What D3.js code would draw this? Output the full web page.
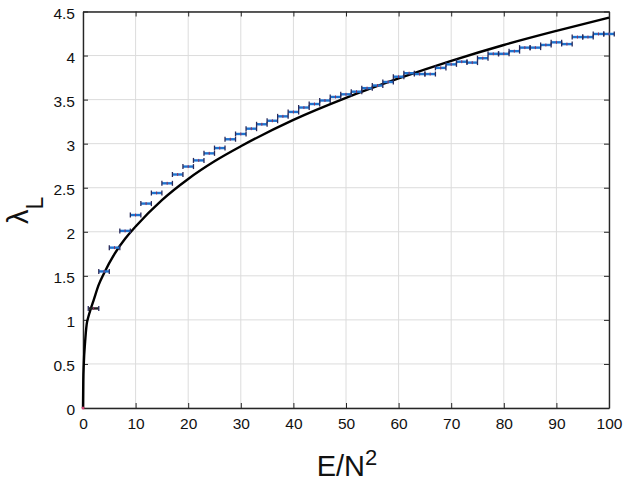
<!DOCTYPE html>
<html><head><meta charset="utf-8">
<script src="https://cdn.jsdelivr.net/npm/d3@7"></script>
<style>body{margin:0;background:#fff}svg{display:block;font-family:"Liberation Sans",Arial,Helvetica,sans-serif}</style>
</head><body><svg id="c" width="623" height="487"></svg>
<script>
const pointX = [0,2,4,6,8,10,12,14,16,18,20,22,24,26,28,30,32,34,36,38,40,42,44,46,48,50,52,54,56,58,60,62,64,66,68,70,72,74,76,78,80,82,84,86,88,90,92,94,96,98,100];
const pointY = [0,1.13,1.55,1.82,2.01,2.19,2.32,2.44,2.55,2.65,2.74,2.81,2.89,2.95,3.05,3.11,3.17,3.22,3.26,3.31,3.36,3.41,3.45,3.49,3.53,3.56,3.59,3.63,3.66,3.70,3.76,3.80,3.79,3.79,3.86,3.90,3.93,3.92,3.97,4.02,4.02,4.05,4.09,4.09,4.12,4.15,4.13,4.21,4.21,4.245,4.245];
const curveX = [0,0.05,0.15,0.4,0.7,1,1.5,2,3,4,6,8,10,15,20,25,30,40,50,60,70,80,90,100];
const curveY = [0,0.3,0.5,0.75,0.95,1.03,1.13,1.22,1.40,1.53,1.75,1.92,2.06,2.36,2.60,2.80,2.97,3.27,3.52,3.74,3.94,4.12,4.28,4.43];
const xTicks = [0,10,20,30,40,50,60,70,80,90,100];
const yTicks = [0,0.5,1,1.5,2,2.5,3,3.5,4,4.5];
const errHalf = 1;

const svg = d3.select("#c");
const L = 83, R = 609, T = 11.5, B = 408;
const x = d3.scaleLinear().domain([0,100]).range([L,R]);
const y = d3.scaleLinear().domain([0,4.5]).range([B,T]);

// grid
const g = svg.append("g");
g.selectAll(".gx").data(xTicks).join("line")
  .attr("x1",d=>x(d)).attr("x2",d=>x(d)).attr("y1",T).attr("y2",B)
  .attr("stroke","#dcdcdc").attr("stroke-width",1);
g.selectAll(".gy").data(yTicks).join("line")
  .attr("y1",d=>y(d)).attr("y2",d=>y(d)).attr("x1",L).attr("x2",R)
  .attr("stroke","#dcdcdc").attr("stroke-width",1);

// axes
const ax = svg.append("g").attr("transform",`translate(0,${B})`)
  .call(d3.axisBottom(x).tickValues(xTicks).tickFormat(d3.format("d")).tickSizeInner(-5).tickSizeOuter(0).tickPadding(10));
const ay = svg.append("g").attr("transform",`translate(${L},0)`)
  .call(d3.axisLeft(y).tickValues(yTicks).tickFormat(d=>String(d)).tickSizeInner(-5).tickSizeOuter(0).tickPadding(8));
const axT = svg.append("g").attr("transform",`translate(0,${T})`)
  .call(d3.axisTop(x).tickValues(xTicks).tickFormat("").tickSizeInner(-5).tickSizeOuter(0));
const ayR = svg.append("g").attr("transform",`translate(${R},0)`)
  .call(d3.axisRight(y).tickValues(yTicks).tickFormat("").tickSizeInner(-5).tickSizeOuter(0));
[ax,ay,axT,ayR].forEach(a=>{
  a.selectAll("path").attr("stroke","#262626").attr("stroke-width",1.4);
  a.selectAll("line").attr("stroke","#262626");
  a.selectAll("text").attr("fill","#111").style("font-size","15.5px").style("font-family",'"Liberation Sans",Arial,sans-serif');
});
ay.selectAll("text").attr("dy","0.45em");

// curve
const curveData = curveX.map((v,i)=>[v,curveY[i]]);
svg.append("path").datum(curveData)
  .attr("d", d3.line().x(d=>x(d[0])).y(d=>y(d[1])).curve(d3.curveMonotoneX))
  .attr("fill","none").attr("stroke","#000").attr("stroke-width",2.4);

// points with horizontal error bars
const pts = pointX.map((v,i)=>[v,pointY[i]]).filter(d=>d[0]>0);
const pg = svg.append("g");
pg.selectAll(".hb").data(pts).join("line")
  .attr("x1",d=>x(d[0]-errHalf)).attr("x2",d=>x(d[0]+errHalf))
  .attr("y1",d=>y(d[1])).attr("y2",d=>y(d[1]))
  .attr("stroke",d=>d[0]===2?"#222":"#1f74d0").attr("stroke-width",2.4);
pg.selectAll(".cl").data(pts).join("line")
  .attr("x1",d=>x(d[0]-errHalf)).attr("x2",d=>x(d[0]-errHalf))
  .attr("y1",d=>y(d[1])-2.5).attr("y2",d=>y(d[1])+2.5)
  .attr("stroke","#2a2a5a").attr("stroke-width",1.3);
pg.selectAll(".cr").data(pts).join("line")
  .attr("x1",d=>x(d[0]+errHalf)).attr("x2",d=>x(d[0]+errHalf))
  .attr("y1",d=>y(d[1])-2.5).attr("y2",d=>y(d[1])+2.5)
  .attr("stroke","#2a2a5a").attr("stroke-width",1.3);
pg.selectAll(".cm").data(pts).join("line")
  .attr("x1",d=>x(d[0])).attr("x2",d=>x(d[0]))
  .attr("y1",d=>y(d[1])-1.5).attr("y2",d=>y(d[1])+1.5)
  .attr("stroke","#8a3060").attr("stroke-width",1);
pg.append("circle").attr("cx",x(pointX[0])).attr("cy",y(pointY[0])).attr("r",1.5).attr("fill","#d04070");

// labels
const xl = svg.append("text").attr("x",(L+R)/2 + 1).attr("y",476).attr("text-anchor","middle")
  .style("font-size","29px").attr("fill","#111");
xl.append("tspan").text("E/N");
xl.append("tspan").attr("dy",-11).style("font-size","22px").text("2");

const yl = svg.append("text").attr("transform","translate(28,224) rotate(-90)")
  .attr("text-anchor","start").style("font-size","29px").attr("fill","#111");
yl.append("tspan").text("λ");
yl.append("tspan").attr("dy",15).style("font-size","23px").text("L");
</script></body></html>
